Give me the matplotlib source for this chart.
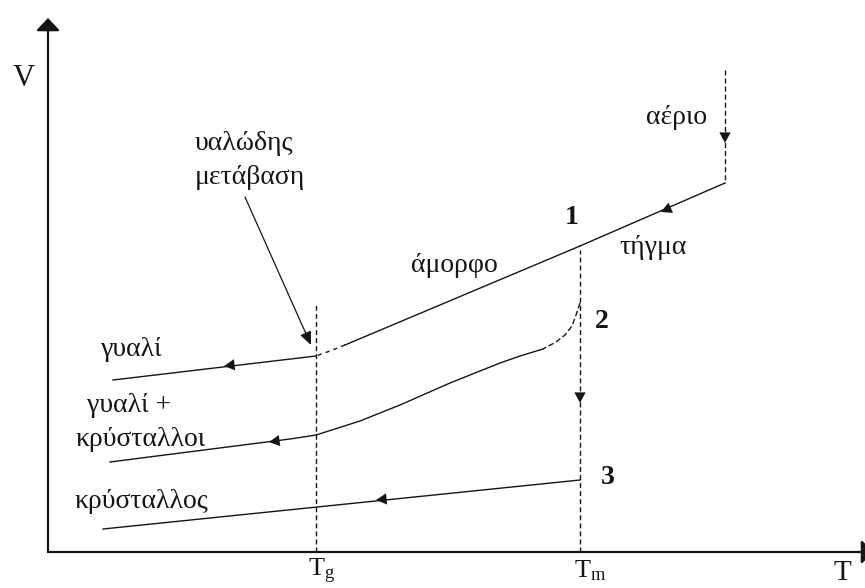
import matplotlib
matplotlib.use("Agg")
import matplotlib.pyplot as plt

plt.rcParams["font.family"] = ["Liberation Serif", "DejaVu Serif"]
plt.rcParams["mathtext.fontset"] = "custom"
plt.rcParams["mathtext.rm"] = "Liberation Serif"
plt.rcParams["mathtext.it"] = "Liberation Serif"

# Schematic V–T diagram (arbitrary units, origin at the axes corner)
T_G = 268          # glass transition temperature
T_M = 532          # melting temperature
T_GAS = 677        # condensation of the gas

gas_T = [T_GAS, T_GAS]
gas_V = [482, 369]

liquid_T = [T_GAS, T_M]
liquid_V = [369, 306]

amorphous_T = [T_M, 297]
amorphous_V = [306, 207]

transition_T = [297, 282, T_G]
transition_V = [207, 201, 196]

glass_T = [T_G, 65]
glass_V = [196, 172]

# path 2: partial crystallisation just below Tm
partial_dash_T = [T_M, 528, 524, 517, 508, 495]
partial_dash_V = [249, 237, 226, 217, 210, 203]
partial_T = [495, 472, 452, 402, 352, 312, 287, T_G, 242, 62]
partial_V = [203, 196, 189, 169, 147, 131, 123, 117, 113, 90]

# path 3: full crystallisation
crystal_T = [T_M, 55]
crystal_V = [72, 23]

tg_line_top = 247
tm_line_top = 302

fig = plt.figure(figsize=(8.65, 5.88), dpi=100)
ax = fig.add_axes([0, 0, 1, 1])
ax.set_xlim(-48, 817)
ax.set_ylim(-36, 552)
ax.axis("off")

ink = "#151515"
lw = 1.0
dash = (0, (3.6, 2.2))
greek = 20

# axes with arrow heads
axis_arrow = dict(arrowstyle="-|>,head_width=0.36,head_length=0.38",
                  lw=1.6, color=ink, shrinkA=0, shrinkB=0, mutation_scale=20)
ax.annotate("", xy=(0, 534), xytext=(0, 0), arrowprops=axis_arrow,
            annotation_clip=False)
ax.annotate("", xy=(826, 0), xytext=(0, 0), arrowprops=axis_arrow,
            annotation_clip=False)

# vertical guides at Tg, Tm and the gas
ax.plot([T_G, T_G], [0, tg_line_top], color=ink, lw=lw, ls=dash)
ax.plot([T_M, T_M], [0, tm_line_top], color=ink, lw=lw, ls=dash)
ax.plot(gas_T, gas_V, color=ink, lw=lw, ls=dash)

# curves
ax.plot(liquid_T, liquid_V, color=ink, lw=lw)
ax.plot(amorphous_T, amorphous_V, color=ink, lw=lw)
ax.plot(transition_T, transition_V, color=ink, lw=lw, ls=(0, (3.0, 3.0)))
ax.plot(glass_T, glass_V, color=ink, lw=lw)
ax.plot(partial_dash_T, partial_dash_V, color=ink, lw=lw, ls=(0, (4.0, 2.0)))
ax.plot(partial_T, partial_V, color=ink, lw=lw)
ax.plot(crystal_T, crystal_V, color=ink, lw=lw)


def head(T, V, dT, dV):
    """Filled arrow head with its tip at (T, V), pointing along (dT, dV)."""
    ax.annotate("", xy=(T, V), xytext=(T - dT, V - dV),
                arrowprops=dict(arrowstyle="-|>,head_width=0.45,head_length=0.85",
                                lw=0, color=ink, shrinkA=0, shrinkB=0,
                                mutation_scale=9))


head(T_GAS, 409, 0, -6)
head(613, 340, -6, -2.6)
head(T_M, 149, 0, -6)
head(176, 186, -6, -0.7)
head(221, 110, -6, -0.8)
head(328, 52, -6, -0.6)

# glass transition label with pointer
ax.annotate("", xy=(263, 207), xytext=(197, 355),
            arrowprops=dict(arrowstyle="-|>,head_width=0.35,head_length=0.8",
                            lw=0.9, color=ink, shrinkA=0, shrinkB=0,
                            mutation_scale=10))
ax.text(147, 409, "υαλώδης", fontsize=greek, ha="left", va="center", color=ink)
ax.text(147, 375, "μετάβαση", fontsize=greek, ha="left", va="center", color=ink)

ax.text(406, 287, "άμορφο", fontsize=greek, ha="center", va="center", color=ink)
ax.text(605, 305, "τήγμα", fontsize=greek, ha="center", va="center", color=ink)
ax.text(629, 435, "αέριο", fontsize=greek, ha="center", va="center", color=ink)

ax.text(524, 335, "1", fontsize=20, fontweight="bold", ha="center", va="center", color=ink)
ax.text(554, 231, "2", fontsize=20, fontweight="bold", ha="center", va="center", color=ink)
ax.text(560, 75, "3", fontsize=20, fontweight="bold", ha="center", va="center", color=ink)

ax.text(84, 202, "γυαλί", fontsize=greek, ha="center", va="center", color=ink)
ax.text(81, 146, "γυαλί +", fontsize=greek, ha="center", va="center", color=ink)
ax.text(93, 113, "κρύσταλλοι", fontsize=greek, ha="center", va="center", color=ink)
ax.text(93, 50, "κρύσταλλος", fontsize=greek, ha="center", va="center", color=ink)

ax.text(-24, 473, "V", fontsize=22, ha="center", va="center", color=ink)
ax.text(794, -21, "T", fontsize=21, ha="center", va="center", color=ink)
ax.text(274, -19, r"$\mathrm{T_g}$", fontsize=19, ha="center", va="center", color=ink)
ax.text(542, -19, r"$\mathrm{T_m}$", fontsize=19, ha="center", va="center", color=ink)

fig.savefig("out.png", dpi=100, facecolor="white")
